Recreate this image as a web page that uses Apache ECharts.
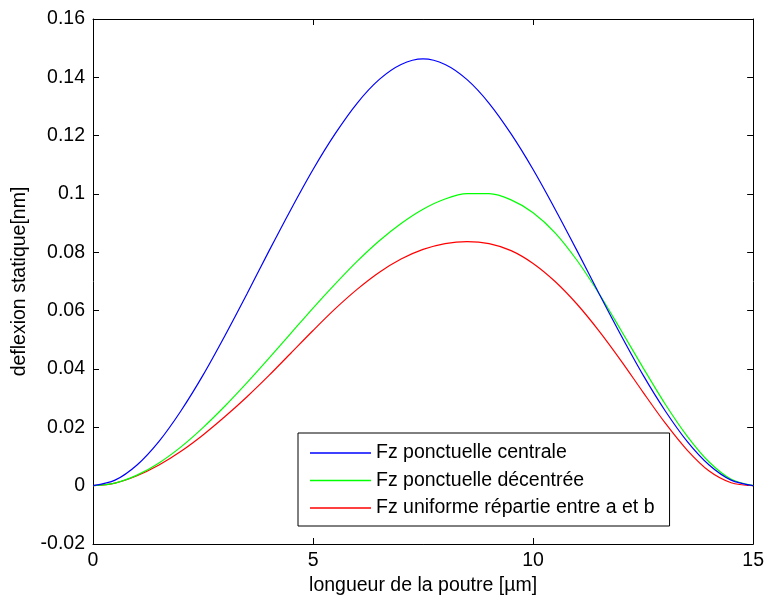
<!DOCTYPE html>
<html>
<head>
<meta charset="utf-8">
<script src="https://cdn.jsdelivr.net/npm/echarts@6/dist/echarts.min.js"></script>
<style>
html,body{margin:0;padding:0;background:#fff;}
#chart{width:767px;height:601px;}
</style>
</head>
<body>
<div id="chart"></div>
<script>
// Position along the beam [µm]
var positions = [0, 0.5, 1, 1.5, 2, 2.5, 3, 3.5, 4, 4.5, 5, 5.5, 6, 6.5, 7, 7.5,
                 8, 8.5, 9, 9.5, 10, 10.5, 11, 11.5, 12, 12.5, 13, 13.5, 14, 14.5, 15];
// Fz ponctuelle centrale
var centrale = [0, 0.0019, 0.0071, 0.0152, 0.0257, 0.0379, 0.0515, 0.0658, 0.0805, 0.0948, 0.1084,
                0.1206, 0.1311, 0.1392, 0.1444, 0.1463, 0.1444, 0.1392, 0.1311, 0.1206, 0.1084,
                0.0948, 0.0805, 0.0658, 0.0515, 0.0379, 0.0257, 0.0152, 0.0071, 0.0019, 0];
// Fz ponctuelle décentrée
var decentree = [0, 0.0009, 0.0036, 0.0078, 0.0133, 0.0199, 0.0273, 0.0353, 0.0437, 0.0523, 0.0609,
                 0.0691, 0.0769, 0.0839, 0.0899, 0.0948, 0.0983, 0.1001, 0.1001, 0.0980, 0.0936,
                 0.0867, 0.0772, 0.0658, 0.0532, 0.0404, 0.0280, 0.0170, 0.0081, 0.0022, 0];
// Fz uniforme répartie entre a et b
var uniforme = [0, 0.0009, 0.0034, 0.0071, 0.0118, 0.0174, 0.0237, 0.0305, 0.0378, 0.0455, 0.0532,
                0.0606, 0.0673, 0.0731, 0.0777, 0.0810, 0.0830, 0.0837, 0.0830, 0.0806, 0.0762,
                0.0700, 0.0622, 0.0530, 0.0428, 0.0320, 0.0215, 0.0122, 0.0050, 0.0010, 0];

var seriesNames = ['Fz ponctuelle centrale', 'Fz ponctuelle décentrée', 'Fz uniforme répartie entre a et b'];
var seriesColors = ['#0000ff', '#00ff00', '#ff0000'];
var seriesValues = [centrale, decentree, uniforme];

var xName = 'longueur de la poutre [µm]';
var yName = 'deflexion statique[nm]';
var xMin = 0, xMax = 15, xStep = 5;
var yMin = -0.02, yMax = 0.16, yStep = 0.02;

var FONT = '"Liberation Sans", Arial, sans-serif';
var FS = 19.5;

function pairs(vals) {
  return positions.map(function (x, i) { return [x, vals[i]]; });
}

var axisLine = { show: true, onZero: false, lineStyle: { color: '#000', width: 1 } };
var tick = { show: true, inside: true, length: 6, lineStyle: { color: '#000', width: 1 } };

var chart = echarts.init(document.getElementById('chart'), null, { renderer: 'canvas' });
chart.setOption({
  backgroundColor: '#fff',
  animation: false,
  grid: { left: 93, right: 10, top: 19, bottom: 57, containLabel: false },
  legend: {
    orient: 'vertical',
    left: 298, top: 433,
    padding: [10, 15, 8, 12],
    itemGap: 7.5,
    itemWidth: 61,
    itemHeight: 1.5,
    icon: 'rect',
    backgroundColor: '#fff',
    borderColor: '#000',
    borderWidth: 1,
    borderRadius: 0,
    data: seriesNames,
    textStyle: { fontFamily: FONT, fontSize: FS, color: '#000' }
  },
  xAxis: [{
    type: 'value', min: xMin, max: xMax, interval: xStep,
    position: 'bottom',
    name: xName, nameLocation: 'middle', nameGap: 32,
    nameTextStyle: { fontFamily: FONT, fontSize: FS, color: '#000' },
    axisLine: axisLine, axisTick: tick,
    axisLabel: { margin: 7, fontFamily: FONT, fontSize: FS, color: '#000' },
    splitLine: { show: false }
  }, {
    type: 'value', min: xMin, max: xMax, interval: xStep,
    position: 'top',
    axisLine: axisLine, axisTick: tick,
    axisLabel: { show: false }, splitLine: { show: false }
  }],
  yAxis: [{
    type: 'value', min: yMin, max: yMax, interval: yStep,
    position: 'left',
    name: yName, nameLocation: 'middle', nameGap: 63,
    nameTextStyle: { fontFamily: FONT, fontSize: FS, color: '#000' },
    axisLine: axisLine, axisTick: tick,
    axisLabel: {
      margin: 8, fontFamily: FONT, fontSize: FS, color: '#000',
      formatter: function (v) { return String(+v.toFixed(2)); }
    },
    splitLine: { show: false }
  }, {
    type: 'value', min: yMin, max: yMax, interval: yStep,
    position: 'right',
    axisLine: axisLine, axisTick: tick,
    axisLabel: { show: false }, splitLine: { show: false }
  }],
  series: seriesNames.map(function (name, i) {
    return {
      name: name,
      type: 'line',
      xAxisIndex: 0, yAxisIndex: 0,
      data: pairs(seriesValues[i]),
      smooth: 0.3,
      symbol: 'none',
      lineStyle: { color: seriesColors[i], width: 1.2 },
      itemStyle: { color: seriesColors[i] },
      z: 3 - i
    };
  })
});
</script>
</body>
</html>
